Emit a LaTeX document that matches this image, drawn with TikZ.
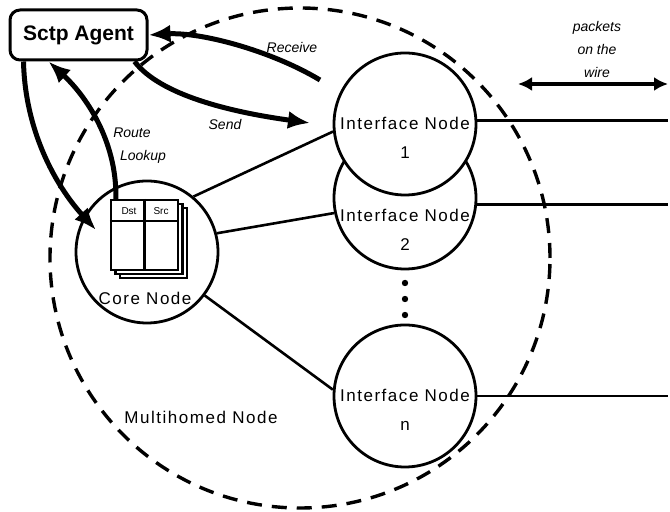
\documentclass[tikz,border=0pt]{standalone}
\usepackage{fontspec}
\setmainfont{Liberation Sans}
\newfontfamily\spaced[LetterSpace=9]{Liberation Sans}
\usetikzlibrary{arrows.meta, calc, shadows}

\begin{document}
\begin{tikzpicture}[x=0.5pt, y=-0.5pt,
    ring/.style={circle, draw, line width=1.4pt, fill=white, minimum size=71pt, inner sep=0pt},
    lbl/.style={font={\spaced\fontsize{8.5}{14.5}\selectfont}, align=center, inner sep=0pt},
    note/.style={font={\itshape\fontsize{7}{11.5}\selectfont}, align=center, inner sep=0pt},
    flow/.style={line width=2.5pt, -{Latex[length=11pt, width=9pt]}},
    link/.style={line width=1.3pt},
    wire/.style={line width=1.4pt}]
    \useasboundingbox (0,0) rectangle (670,512);

    % the multihomed host
    \node[circle, draw, line width=1.7pt, dash pattern=on 7.5pt off 5pt, minimum size=250pt, inner sep=0pt] (host) at (300,258) {};
    \node[lbl] (hosttxt) at (201,417) {Multihomed Node};

    % core node with its routing table
    \node[ring] (core) at (147,252) {};
    \node[draw, fill=white, line width=1.1pt, minimum width=33.5pt, minimum height=35pt, inner sep=0pt,
          copy shadow={shadow xshift=4.5pt, shadow yshift=-4pt},
          copy shadow={shadow xshift=2.2pt, shadow yshift=-2pt}] (table) at (144.5,235) {};
    \draw[line width=1.1pt] ($(table.north west)!0.31!(table.south west)$) -- ($(table.north east)!0.31!(table.south east)$);
    \draw[line width=1.1pt] (table.north) -- (table.south);
    \node[font=\fontsize{5}{6}\selectfont, inner sep=0pt] (dst) at (129,211) {Dst};
    \node[font=\fontsize{5}{6}\selectfont, inner sep=0pt] (src) at (161,211) {Src};
    \node[lbl] (coretxt) at (145,298) {Core Node};

    % interface nodes
    \node[ring] (if2) at (405,198) {};
    \node[ring] (if1) at (405,124) {};
    \node[ring] (ifn) at (405,396) {};
    \node[lbl] (if1txt) at (405,138) {Interface Node\\1};
    \node[lbl] (if2txt) at (405,230) {Interface Node\\2};
    \node[lbl] (ifntxt) at (405,410) {Interface Node\\n};
    \foreach \y in {283,299,315}
        \fill (405,\y) circle (1.6pt);

    \draw[link] (core.50) -- (if1.186);
    \draw[link] (core.15) -- (if2.192);
    \draw[link] (core.-37) -- (ifn.175);

    % wires
    \coordinate (edge) at (668,0);
    \draw[wire] (if1.3) -- (if1.3 -| edge);
    \draw[wire] (if2.-5) -- (if2.-5 -| edge);
    \draw[wire] (ifn.east) -- (ifn.east -| edge);
    \coordinate (wl) at (518,84);
    \coordinate (wr) at (668,84);
    \draw[line width=1.7pt, {Latex[length=7pt, width=7pt]}-{Latex[length=7pt, width=7pt]}] (wl) -- (wr);
    \node[note] (wiretxt) at (597,50) {packets\\on the\\wire};

    % agent and its flows
    \node[draw, rounded corners=5pt, line width=1.5pt, fill=white, minimum width=68.5pt, minimum height=25pt,
          font={\bfseries\fontsize{10.5}{12}\selectfont}] (agent) at (78.5,35) {Sctp Agent};
    \coordinate (rcv) at (320,80);
    \coordinate (snd) at (310,123);
    \coordinate (coreIn) at (96,230);
    \draw[flow] (rcv) .. controls (270,50) and (200,32) .. (agent.east);
    \draw[flow] ($(agent.south east)+(-14,0)$) .. controls (160,95) and (230,112) .. (snd);
    \draw[flow] ($(table.north west)+(6,0)$) .. controls (117,140) and (85,95) .. ($(agent.south west)+(40,0)$);
    \draw[flow] ($(agent.south west)+(15,0)$) .. controls (25,130) and (55,185) .. (coreIn);
    \node[note] (rcvtxt) at (292,48) {Receive};
    \node[note] (sndtxt) at (225,125) {Send};
    \node[note] (routetxt) at (132,133) {Route};
    \node[note] (lookuptxt) at (143,157) {Lookup};
\end{tikzpicture}
\end{document}
